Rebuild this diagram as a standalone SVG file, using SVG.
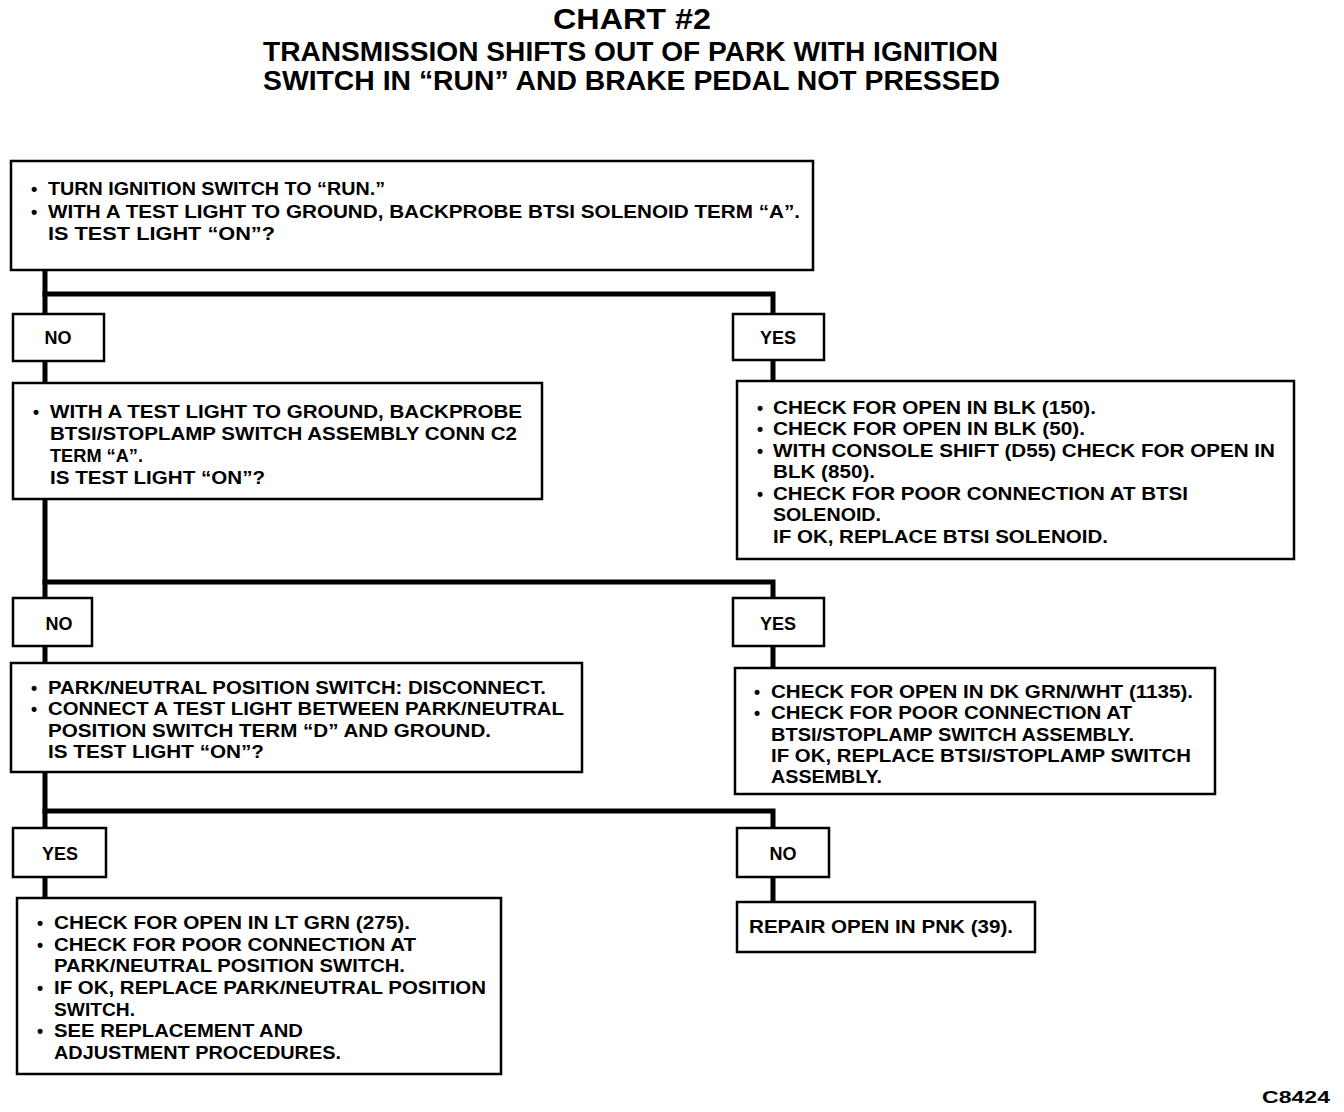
<svg xmlns="http://www.w3.org/2000/svg" width="1344" height="1112" viewBox="0 0 1344 1112">
<style>
.bg{fill:#fff}
.box{fill:#fff;stroke:#000;stroke-width:2.5}
.wire{fill:none;stroke:#000;stroke-width:5;stroke-linejoin:miter;stroke-linecap:square}
text{font-family:"Liberation Sans",Arial,sans-serif;font-weight:bold;fill:#000}
.t{font-size:17.5px}
.t1{font-size:18px}
.lbl{font-size:18px;text-anchor:middle}
.title{font-size:30px}
.sub{font-size:27px}
</style>
<rect class="bg" x="0" y="0" width="1344" height="1112"/>
<g id="title">
<text class="title" x="553" y="29" textLength="158" lengthAdjust="spacingAndGlyphs">CHART #2</text>
<text class="sub" x="263" y="61" textLength="735" lengthAdjust="spacingAndGlyphs">TRANSMISSION SHIFTS OUT OF PARK WITH IGNITION</text>
<text class="sub" x="263" y="90" textLength="737" lengthAdjust="spacingAndGlyphs">SWITCH IN “RUN” AND BRAKE PEDAL NOT PRESSED</text>
</g>
<g id="connectors">
<polyline class="wire" points="45,270 45,314"/>
<polyline class="wire" points="45,294 773,294 773,314"/>
<polyline class="wire" points="45,361 45,383"/>
<polyline class="wire" points="773,360 773,381"/>
<polyline class="wire" points="45,499 45,598"/>
<polyline class="wire" points="45,582 773,582 773,598"/>
<polyline class="wire" points="45,646 45,663"/>
<polyline class="wire" points="773,646 773,668"/>
<polyline class="wire" points="45,772 45,828"/>
<polyline class="wire" points="45,811 773,811 773,828"/>
<polyline class="wire" points="45,877 45,898"/>
<polyline class="wire" points="773,877 773,902"/>
</g>
<g id="box1">
<rect class="box" x="11" y="161" width="802" height="109"/>
<text class="t1" x="31" y="195">•</text>
<text class="t1" x="48" y="195" textLength="337" lengthAdjust="spacingAndGlyphs">TURN IGNITION SWITCH TO “RUN.”</text>
<text class="t1" x="31" y="218">•</text>
<text class="t1" x="48" y="218" textLength="752" lengthAdjust="spacingAndGlyphs">WITH A TEST LIGHT TO GROUND, BACKPROBE BTSI SOLENOID TERM “A”.</text>
<text class="t1" x="48" y="240" textLength="227" lengthAdjust="spacingAndGlyphs">IS TEST LIGHT “ON”?</text>
</g>
<g id="no1">
<rect class="box" x="13" y="314" width="91" height="47"/>
<text class="lbl" x="58" y="344">NO</text>
</g>
<g id="yes1">
<rect class="box" x="733" y="314" width="91" height="46"/>
<text class="lbl" x="778" y="344">YES</text>
</g>
<g id="box2">
<rect class="box" x="13" y="383" width="529" height="116"/>
<text class="t" x="33" y="418">•</text>
<text class="t" x="50" y="418" textLength="472" lengthAdjust="spacingAndGlyphs">WITH A TEST LIGHT TO GROUND, BACKPROBE</text>
<text class="t" x="50" y="440" textLength="467" lengthAdjust="spacingAndGlyphs">BTSI/STOPLAMP SWITCH ASSEMBLY CONN C2</text>
<text class="t" x="50" y="462" textLength="93" lengthAdjust="spacingAndGlyphs">TERM “A”.</text>
<text class="t" x="50" y="484" textLength="215" lengthAdjust="spacingAndGlyphs">IS TEST LIGHT “ON”?</text>
</g>
<g id="box3">
<rect class="box" x="737" y="381" width="557" height="178"/>
<text class="t" x="757" y="414">•</text>
<text class="t" x="773" y="414" textLength="323" lengthAdjust="spacingAndGlyphs">CHECK FOR OPEN IN BLK (150).</text>
<text class="t" x="757" y="435">•</text>
<text class="t" x="773" y="435" textLength="312" lengthAdjust="spacingAndGlyphs">CHECK FOR OPEN IN BLK (50).</text>
<text class="t" x="757" y="457">•</text>
<text class="t" x="773" y="457" textLength="502" lengthAdjust="spacingAndGlyphs">WITH CONSOLE SHIFT (D55) CHECK FOR OPEN IN</text>
<text class="t" x="773" y="478" textLength="102" lengthAdjust="spacingAndGlyphs">BLK (850).</text>
<text class="t" x="757" y="500">•</text>
<text class="t" x="773" y="500" textLength="415" lengthAdjust="spacingAndGlyphs">CHECK FOR POOR CONNECTION AT BTSI</text>
<text class="t" x="773" y="521" textLength="108" lengthAdjust="spacingAndGlyphs">SOLENOID.</text>
<text class="t" x="773" y="543" textLength="335" lengthAdjust="spacingAndGlyphs">IF OK, REPLACE BTSI SOLENOID.</text>
</g>
<g id="no2">
<rect class="box" x="13" y="598" width="79" height="48"/>
<text class="lbl" x="59" y="630">NO</text>
</g>
<g id="yes2">
<rect class="box" x="733" y="598" width="91" height="48"/>
<text class="lbl" x="778" y="630">YES</text>
</g>
<g id="box4">
<rect class="box" x="11" y="663" width="571" height="109"/>
<text class="t" x="31" y="694">•</text>
<text class="t" x="48" y="694" textLength="498" lengthAdjust="spacingAndGlyphs">PARK/NEUTRAL POSITION SWITCH: DISCONNECT.</text>
<text class="t" x="31" y="715">•</text>
<text class="t" x="48" y="715" textLength="516" lengthAdjust="spacingAndGlyphs">CONNECT A TEST LIGHT BETWEEN PARK/NEUTRAL</text>
<text class="t" x="48" y="737" textLength="443" lengthAdjust="spacingAndGlyphs">POSITION SWITCH TERM “D” AND GROUND.</text>
<text class="t" x="48" y="758" textLength="216" lengthAdjust="spacingAndGlyphs">IS TEST LIGHT “ON”?</text>
</g>
<g id="box5">
<rect class="box" x="735" y="668" width="480" height="126"/>
<text class="t" x="754" y="698">•</text>
<text class="t" x="771" y="698" textLength="422" lengthAdjust="spacingAndGlyphs">CHECK FOR OPEN IN DK GRN/WHT (1135).</text>
<text class="t" x="754" y="719">•</text>
<text class="t" x="771" y="719" textLength="361" lengthAdjust="spacingAndGlyphs">CHECK FOR POOR CONNECTION AT</text>
<text class="t" x="771" y="741" textLength="363" lengthAdjust="spacingAndGlyphs">BTSI/STOPLAMP SWITCH ASSEMBLY.</text>
<text class="t" x="771" y="762" textLength="420" lengthAdjust="spacingAndGlyphs">IF OK, REPLACE BTSI/STOPLAMP SWITCH</text>
<text class="t" x="771" y="783" textLength="111" lengthAdjust="spacingAndGlyphs">ASSEMBLY.</text>
</g>
<g id="yes3">
<rect class="box" x="13" y="828" width="93" height="49"/>
<text class="lbl" x="60" y="860">YES</text>
</g>
<g id="no3">
<rect class="box" x="737" y="828" width="92" height="49"/>
<text class="lbl" x="783" y="860">NO</text>
</g>
<g id="box6">
<rect class="box" x="17" y="898" width="484" height="176"/>
<text class="t" x="37" y="929">•</text>
<text class="t" x="54" y="929" textLength="356" lengthAdjust="spacingAndGlyphs">CHECK FOR OPEN IN LT GRN (275).</text>
<text class="t" x="37" y="951">•</text>
<text class="t" x="54" y="951" textLength="362" lengthAdjust="spacingAndGlyphs">CHECK FOR POOR CONNECTION AT</text>
<text class="t" x="54" y="972" textLength="351" lengthAdjust="spacingAndGlyphs">PARK/NEUTRAL POSITION SWITCH.</text>
<text class="t" x="37" y="994">•</text>
<text class="t" x="54" y="994" textLength="432" lengthAdjust="spacingAndGlyphs">IF OK, REPLACE PARK/NEUTRAL POSITION</text>
<text class="t" x="54" y="1016" textLength="81" lengthAdjust="spacingAndGlyphs">SWITCH.</text>
<text class="t" x="37" y="1037">•</text>
<text class="t" x="54" y="1037" textLength="249" lengthAdjust="spacingAndGlyphs">SEE REPLACEMENT AND</text>
<text class="t" x="54" y="1059" textLength="287" lengthAdjust="spacingAndGlyphs">ADJUSTMENT PROCEDURES.</text>
</g>
<g id="box7">
<rect class="box" x="737" y="902" width="298" height="50"/>
<text class="t" x="749" y="933" textLength="264" lengthAdjust="spacingAndGlyphs">REPAIR OPEN IN PNK (39).</text>
</g>
<text x="1262" y="1103" font-size="16" textLength="68" lengthAdjust="spacingAndGlyphs">C8424</text>
</svg>
